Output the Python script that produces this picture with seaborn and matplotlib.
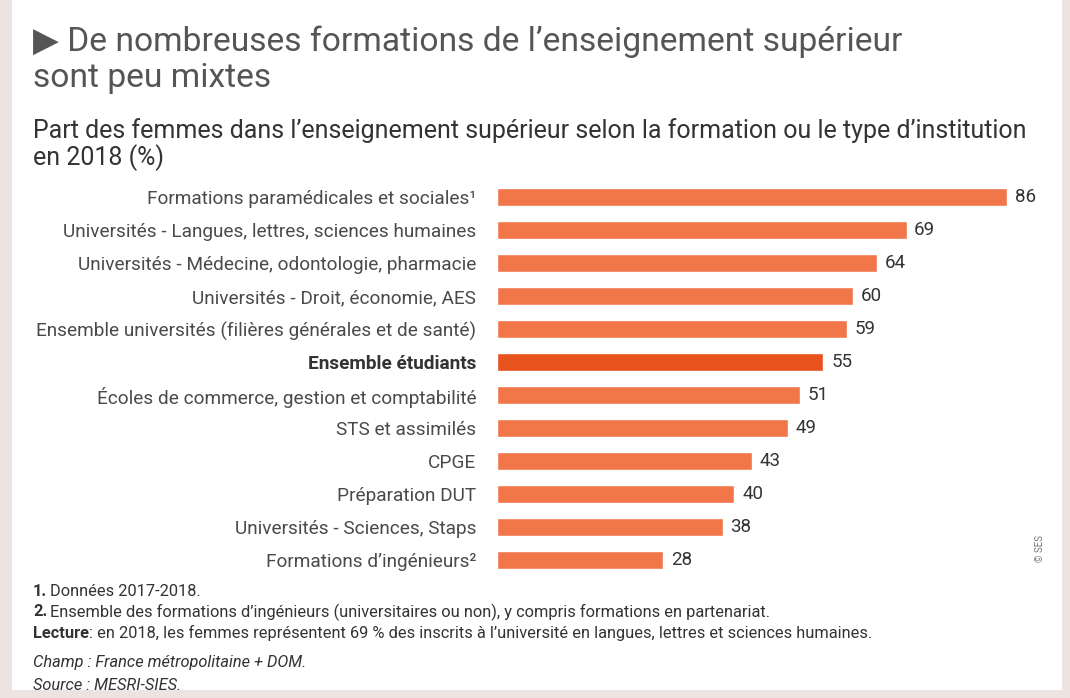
import matplotlib
matplotlib.use("Agg")
import matplotlib.pyplot as plt
import seaborn as sns
import pandas as pd

categories = [
    "Formations paramédicales et sociales¹",
    "Universités - Langues, lettres, sciences humaines",
    "Universités - Médecine, odontologie, pharmacie",
    "Universités - Droit, économie, AES",
    "Ensemble universités (filières générales et de santé)",
    "Ensemble étudiants",
    "Écoles de commerce, gestion et comptabilité",
    "STS et assimilés",
    "CPGE",
    "Préparation DUT",
    "Universités - Sciences, Staps",
    "Formations d’ingénieurs²",
]
values = [86, 69, 64, 60, 59, 55, 51, 49, 43, 40, 38, 28]
highlight = "Ensemble étudiants"

df = pd.DataFrame({"formation": categories, "part": values})
df["groupe"] = ["total" if c == highlight else "autre" for c in categories]

sns.set_style("white")
plt.rcParams["font.family"] = ["Roboto", "DejaVu Sans"]

W, H = 1070, 698
fig = plt.figure(figsize=(W / 100, H / 100), dpi=100)
fig.patch.set_facecolor("#ede3e0")
# white panel
fig.patches.append(matplotlib.patches.Rectangle((12 / W, 1 - 690 / H), 1050 / W, 690 / H,
                                                transform=fig.transFigure, facecolor="white",
                                                edgecolor="none", zorder=-5))

ax = fig.add_axes([497 / W, 1 - 576.5 / H, 546 / W, 396 / H])
ax.set_facecolor("none")
sns.barplot(data=df, y="formation", x="part", hue="groupe", orient="h",
            palette={"autre": "#f1774a", "total": "#e8521c"}, saturation=1, dodge=False,
            width=0.52, legend=False, ax=ax)
ax.set_xlim(0, 92)
ax.set_xlabel("")
ax.set_ylabel("")
ax.set_xticks([])
sns.despine(ax=ax, left=True, bottom=True)
ax.tick_params(axis="y", length=0, pad=15, labelsize=13.7, labelcolor="#4a4a4a")
for lab in ax.get_yticklabels():
    if lab.get_text() == highlight:
        lab.set_fontweight("bold")
        lab.set_color("#333333")

for i, v in enumerate(values):
    ax.text(v + 1.3, i, str(v), va="center", ha="left", fontsize=13.5, color="#333333")


def line(x, y, s, **kw):
    return fig.text(x / W, 1 - y / H, s, va="center", ha="left", **kw)


line(33, 42, "▶ De nombreuses formations de l’enseignement supérieur", fontsize=24.2, color="#555555")
line(33, 78, "sont peu mixtes", fontsize=24.2, color="#555555")
line(33, 131, "Part des femmes dans l’enseignement supérieur selon la formation ou le type d’institution",
     fontsize=18, color="#333333")
line(33, 158, "en 2018 (%)", fontsize=18, color="#333333")

fig.text(1040 / W, 1 - 548 / H, "© SES", rotation=90, fontsize=7, color="#777777",
         ha="center", va="center")

fs = 11.8
renderer = fig.canvas.get_renderer()


def note(y, bold, rest, gap=3):
    t = line(33, y, bold, fontsize=fs, fontweight="bold", color="#333333")
    bb = t.get_window_extent(renderer=renderer)
    line(bb.x1 + gap, y, rest, fontsize=fs, color="#333333")


note(591, "1.", "Données 2017-2018.")
note(612, "2.", "Ensemble des formations d’ingénieurs (universitaires ou non), y compris formations en partenariat.")
note(633, "Lecture", ": en 2018, les femmes représentent 69 % des inscrits à l’université en langues, lettres et sciences humaines.", gap=0)
line(33, 663, "Champ : France métropolitaine + DOM.", fontsize=fs, style="italic", color="#333333")
line(33, 685, "Source : MESRI-SIES.", fontsize=fs, style="italic", color="#333333")

fig.savefig("out.png", dpi=100, facecolor=fig.get_facecolor())
